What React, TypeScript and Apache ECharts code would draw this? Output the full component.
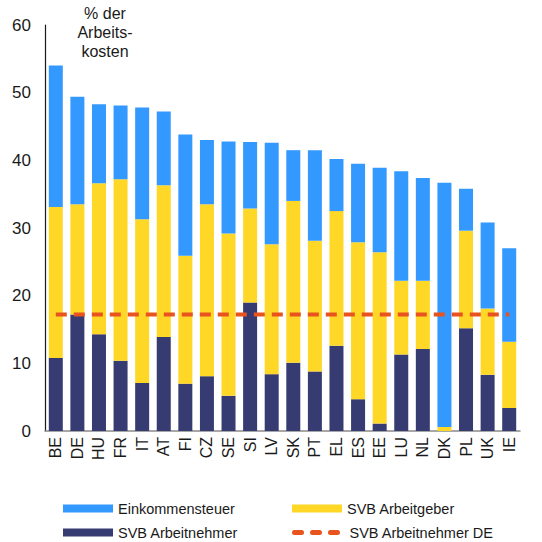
import React, { useEffect, useRef } from "react";
import * as echarts from "echarts";

const countries = ["BE","DE","HU","FR","IT","AT","FI","CZ","SE","SI","LV","SK","PT","EL","ES","EE","LU","NL","DK","PL","UK","IE"];
// cumulative tops
const navyTop = [10.8,17.2,14.3,10.4,7.1,13.9,7.0,8.1,5.2,19.0,8.4,10.1,8.8,12.6,4.7,1.1,11.3,12.1,0,15.2,8.3,3.4];
const yellowTop = [33.1,33.5,36.6,37.2,31.3,36.3,25.9,33.5,29.2,32.9,27.6,34.0,28.1,32.5,27.9,26.4,22.2,22.2,0.6,29.6,18.1,13.2];
const totalTop = [54.0,49.4,48.3,48.1,47.8,47.2,43.8,43.0,42.8,42.7,42.6,41.5,41.5,40.2,39.5,38.9,38.4,37.4,36.7,35.8,30.8,27.0];
const deEmployeeLevel = 17.2;

const arbeitnehmer = navyTop;
const arbeitgeber = yellowTop.map((v, i) => +(v - navyTop[i]).toFixed(1));
const einkommensteuer = totalTop.map((v, i) => +(v - yellowTop[i]).toFixed(1));
const deLine = countries.map(() => deEmployeeLevel);

const FONT = "Liberation Sans, Arial, sans-serif";

const legendItem = (name: string, left: number, top: number, extra: any = { icon: "rect" }) => ({
  left,
  top,
  itemWidth: 50,
  itemHeight: 8,
  data: [{ name, ...extra }],
  textStyle: { fontSize: 14.5, color: "#1a1a1a", fontFamily: FONT },
});

export default function App() {
  const ref = useRef<HTMLDivElement>(null);
  useEffect(() => {
    document.body.style.margin = "0";
    const chart = echarts.init(ref.current!, null, { renderer: "svg" });
    chart.setOption({
      animation: false,
      textStyle: { fontFamily: FONT, color: "#1a1a1a" },
      grid: { left: 45, right: 22, top: 25, bottom: 111 },
      graphic: [
        {
          type: "text",
          x: 105,
          y: 4,
          style: {
            text: "% der\nArbeits-\nkosten",
            font: "16px " + FONT,
            fill: "#1a1a1a",
            align: "center",
            lineHeight: 19,
          },
        },
      ],
      xAxis: {
        type: "category",
        data: countries,
        axisLine: { show: true, lineStyle: { color: "#8a8a8a", width: 1.5 } },
        axisTick: { show: false },
        axisLabel: { interval: 0, rotate: 90, fontSize: 16, color: "#1a1a1a", margin: 6, fontFamily: FONT },
      },
      yAxis: {
        type: "value",
        min: 0,
        max: 60,
        interval: 10,
        axisLine: { show: true, lineStyle: { color: "#1a1a1a", width: 1.2 } },
        axisTick: { show: false },
        splitLine: { show: false },
        axisLabel: { fontSize: 17, color: "#1a1a1a", margin: 14, fontFamily: FONT },
      },
      legend: [
        legendItem("Einkommensteuer", 58, 496),
        legendItem("SVB Arbeitnehmer", 58, 520),
        legendItem("SVB Arbeitgeber", 287, 496),
        legendItem("SVB Arbeitnehmer DE", 287, 520, {
          itemStyle: { opacity: 0 },
          lineStyle: { width: 5, type: [7, 11], cap: "round", color: "#E8531E" },
        }),
      ],
      series: [
        {
          name: "SVB Arbeitnehmer",
          type: "bar",
          stack: "t",
          barWidth: 14,
          data: arbeitnehmer,
          itemStyle: { color: "#363B72" },
        },
        {
          name: "SVB Arbeitgeber",
          type: "bar",
          stack: "t",
          barWidth: 14,
          data: arbeitgeber,
          itemStyle: { color: "#FFD726" },
        },
        {
          name: "Einkommensteuer",
          type: "bar",
          stack: "t",
          barWidth: 14,
          data: einkommensteuer,
          itemStyle: { color: "#3399FF" },
        },
        {
          name: "SVB Arbeitnehmer DE",
          type: "line",
          data: deLine,
          symbol: "none",
          z: 5,
          lineStyle: { color: "#E8531E", width: 4, type: [11, 7] },
          itemStyle: { color: "#E8531E" },
        },
      ],
    });
    return () => chart.dispose();
  }, []);
  return <div ref={ref} style={{ width: 542, height: 542 }} />;
}
